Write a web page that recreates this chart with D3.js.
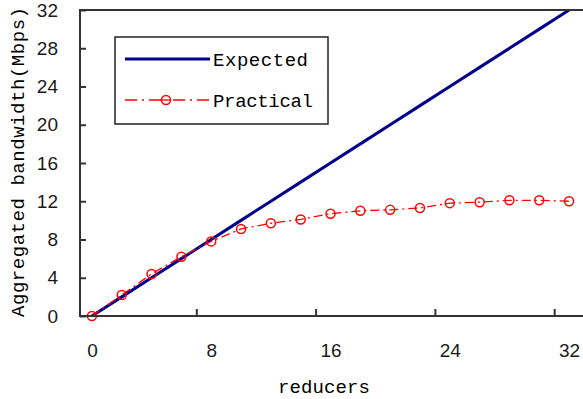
<!DOCTYPE html>
<html>
<head>
<meta charset="utf-8">
<script src="https://cdn.jsdelivr.net/npm/d3@7"></script>
<style>
  html, body { margin: 0; padding: 0; background: #fff; }
  svg { display: block; }
</style>
</head>
<body>
<svg id="chart" width="583" height="399"></svg>
<script>
// Number of reducers on the horizontal axis
const reducers = [0, 2, 4, 6, 8, 10, 12, 14, 16, 18, 20, 22, 24, 26, 28, 30, 32];
// Aggregated bandwidth (Mbps)
const expected = [0, 2, 4, 6, 8, 10, 12, 14, 16, 18, 20, 22, 24, 26, 28, 30, 32];
const practical = [0, 2.2, 4.4, 6.2, 7.8, 9.1, 9.7, 10.1, 10.7, 11.0, 11.1, 11.3, 11.8, 11.9, 12.1, 12.1, 12.0];
// Axis ticks
const xLabelTicks = [0, 8, 16, 24, 32];
const xMarkTicks = [7, 15, 23, 31];
const yTicks = [0, 4, 8, 12, 16, 20, 24, 28, 32];
const seriesNames = ["Expected", "Practical"];

const svg = d3.select("#chart");
const plotLeft = 80, plotRight = 584, plotTop = 10, plotBottom = 316;

const x = d3.scaleLinear().domain([-0.8, 33]).range([plotLeft, plotRight]);
const y = d3.scaleLinear().domain([0, 32]).range([plotBottom, plotTop]);

const axisColor = "#333";
const monoFont = "'Liberation Mono', 'DejaVu Sans Mono', monospace";
const numFont = "'Liberation Sans', Arial, sans-serif";

// Series lines
const line = (vals) => d3.line()
  .x((d, i) => x(reducers[i]))
  .y(d => y(d))(vals);

svg.append("path")
  .attr("d", line(expected))
  .attr("fill", "none")
  .attr("stroke", "#00008b")
  .attr("stroke-width", 3);

svg.append("path")
  .attr("d", line(practical))
  .attr("fill", "none")
  .attr("stroke", "#ff0000")
  .attr("stroke-width", 1.3)
  .attr("stroke-dasharray", "9,4,2,4");

svg.append("g").selectAll("circle")
  .data(practical)
  .join("circle")
  .attr("cx", (d, i) => x(reducers[i]))
  .attr("cy", d => y(d))
  .attr("r", 4.5)
  .attr("fill", "none")
  .attr("stroke", "#ff0000")
  .attr("stroke-width", 1.5);

// Frame lines (left, top, bottom)
const frame = svg.append("g").attr("stroke", axisColor).attr("stroke-width", 2);
frame.append("line").attr("x1", plotLeft).attr("x2", plotLeft).attr("y1", plotTop - 1).attr("y2", plotBottom + 1);
frame.append("line").attr("x1", plotLeft).attr("x2", 583).attr("y1", plotTop).attr("y2", plotTop);
frame.append("line").attr("x1", plotLeft).attr("x2", 583).attr("y1", plotBottom).attr("y2", plotBottom);

// Y axis: inner ticks with labels
const yAxis = svg.append("g")
  .attr("transform", `translate(${plotLeft},0)`)
  .call(d3.axisLeft(y).tickValues(yTicks).tickSize(-6).tickPadding(22));
yAxis.select(".domain").remove();
yAxis.selectAll(".tick line").attr("stroke", axisColor).attr("stroke-width", 2);
yAxis.selectAll(".tick text")
  .attr("fill", "#1a1a1a")
  .style("font-family", numFont)
  .style("font-size", "19px");

// X axis: tick marks between category groups
const xMarks = svg.append("g")
  .attr("transform", `translate(0,${plotBottom})`)
  .call(d3.axisBottom(x).tickValues(xMarkTicks).tickSize(-7).tickFormat(""));
xMarks.select(".domain").remove();
xMarks.selectAll(".tick line").attr("stroke", axisColor).attr("stroke-width", 2);

// X axis labels
const xLabels = svg.append("g")
  .attr("transform", `translate(0,${plotBottom})`)
  .call(d3.axisBottom(x).tickValues(xLabelTicks).tickSize(0).tickPadding(28));
xLabels.select(".domain").remove();
xLabels.selectAll(".tick text")
  .attr("fill", "#1a1a1a")
  .style("font-family", numFont)
  .style("font-size", "19px");

// Axis titles
svg.append("text")
  .attr("x", 324).attr("y", 393)
  .attr("text-anchor", "middle")
  .attr("textLength", 92).attr("lengthAdjust", "spacing")
  .style("font-family", monoFont).style("font-size", "19px")
  .attr("fill", "#000")
  .text("reducers");

svg.append("text")
  .attr("transform", "translate(24,162) rotate(-90)")
  .attr("text-anchor", "middle")
  .attr("textLength", 310).attr("lengthAdjust", "spacing")
  .style("font-family", monoFont).style("font-size", "19px")
  .attr("fill", "#000")
  .text("Aggregated bandwidth(Mbps)");

// Legend
const legend = svg.append("g");
legend.append("rect")
  .attr("x", 115).attr("y", 37).attr("width", 213).attr("height", 87)
  .attr("fill", "#fff").attr("stroke", "#222").attr("stroke-width", 1.5);

legend.append("line")
  .attr("x1", 125).attr("x2", 210).attr("y1", 59).attr("y2", 59)
  .attr("stroke", "#00008b").attr("stroke-width", 3);
legend.append("line")
  .attr("x1", 125).attr("x2", 210).attr("y1", 100).attr("y2", 100)
  .attr("stroke", "#ff0000").attr("stroke-width", 1.3)
  .attr("stroke-dasharray", "12,5,2,5");
legend.append("circle")
  .attr("cx", 166).attr("cy", 100).attr("r", 4.5)
  .attr("fill", "#fff").attr("stroke", "#ff0000").attr("stroke-width", 1.5);
legend.append("line")
  .attr("x1", 161.5).attr("x2", 170.5).attr("y1", 100).attr("y2", 100)
  .attr("stroke", "#ff0000").attr("stroke-width", 1.3);

legend.selectAll("text.lbl")
  .data(seriesNames)
  .join("text")
  .attr("class", "lbl")
  .attr("x", 213)
  .attr("y", (d, i) => i === 0 ? 66 : 107)
  .attr("textLength", (d, i) => i === 0 ? 95 : 100)
  .attr("lengthAdjust", "spacing")
  .style("font-family", monoFont).style("font-size", "19px")
  .attr("fill", "#000")
  .text(d => d);
</script>
</body>
</html>
